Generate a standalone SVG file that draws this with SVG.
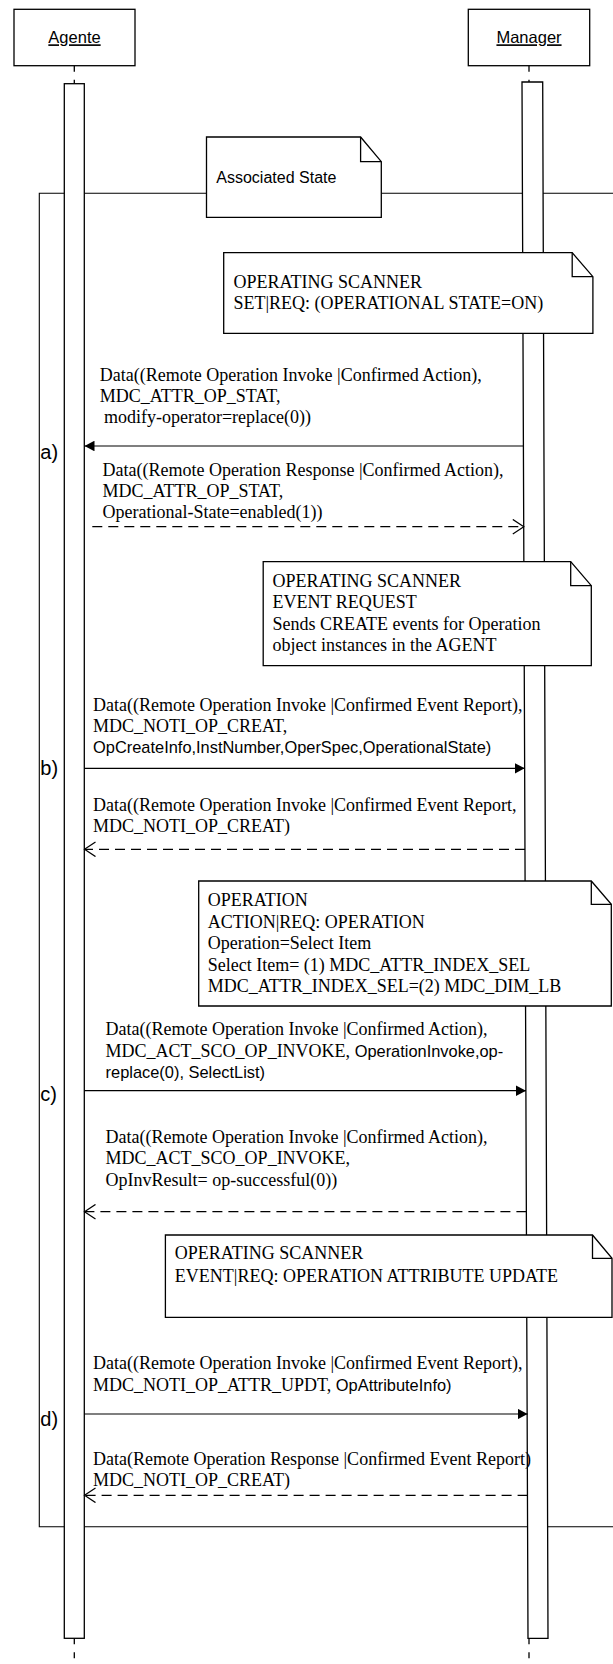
<svg xmlns="http://www.w3.org/2000/svg" width="613" height="1664" viewBox="0 0 613 1664">
<style>
.box{fill:#fff;stroke:#000;stroke-width:1.3}
.fold{fill:none;stroke:#000;stroke-width:1.3}
.frame{fill:none;stroke:#000;stroke-width:1.1}
.ser{font-family:"Liberation Serif","Times New Roman",serif;font-size:18px;fill:#000}
.san{font-family:"Liberation Sans",Arial,sans-serif;font-size:16.4px}
.hd{font-family:"Liberation Sans",Arial,sans-serif;font-size:16.5px;fill:#000}
.lbl{font-family:"Liberation Sans",Arial,sans-serif;font-size:20px;fill:#000}
.msg{stroke:#000;stroke-width:1.2;fill:none}
.dash{stroke-dasharray:10 6}
.life{stroke:#000;stroke-width:1.3;stroke-dasharray:6 8;fill:none}
</style>
<defs>
<marker id="filled" viewBox="0 0 10 10.6" refX="10" refY="5.3" markerWidth="10" markerHeight="10.6" markerUnits="userSpaceOnUse" orient="auto">
<path d="M0,0 L10,5.3 L0,10.6 z" fill="#000" stroke="none"/>
</marker>
<marker id="open" viewBox="0 0 13 16" refX="11.5" refY="8" markerWidth="13" markerHeight="16" markerUnits="userSpaceOnUse" orient="auto">
<path d="M0.5,0.7 L11.5,8 L0.5,15.3" fill="none" stroke="#000" stroke-width="1.2" stroke-dasharray="none"/>
</marker>
</defs>
<rect width="613" height="1664" fill="#fff"/>

<g id="frame">
<path class="frame" d="M620,193.3 H39.3 V1526.7 H620"/>
</g>

<g id="agente">
<rect class="box" x="14" y="9.3" width="121" height="56.4"/>
<text class="hd" x="74.5" y="43.3" text-anchor="middle" text-decoration="underline">Agente</text>
<line class="life" x1="74.3" y1="65.7" x2="74.3" y2="83.7"/>
<line class="life" x1="74.3" y1="1638.3" x2="74.3" y2="1664"/>
<rect class="box" x="64.3" y="83.7" width="20" height="1554.6"/>
</g>

<g id="manager">
<rect class="box" x="468.3" y="9.3" width="121.4" height="56.4"/>
<text class="hd" x="529" y="43.3" text-anchor="middle" text-decoration="underline">Manager</text>
<line class="life" x1="529" y1="65.7" x2="529" y2="82"/>
<line class="life" x1="529" y1="1638.3" x2="529" y2="1664"/>
<polygon class="box" points="522,82 542.7,82 548,1638.3 528,1638.3"/>
</g>

<g id="note-associated">
<polygon class="box" points="206.5,137 360.6,137 381.3,161.7 381.3,217.3 206.5,217.3"/>
<polyline class="fold" points="360.6,137 360.6,161.7 381.3,161.7"/>
<text class="hd" x="216.3" y="183.3" style="font-size:16px">Associated State</text>
</g>

<g id="note-set">
<polygon class="box" points="223.7,252.7 572.2,252.7 592.9,276.7 592.9,333.3 223.7,333.3"/>
<polyline class="fold" points="572.2,252.7 572.2,276.7 592.9,276.7"/>
<text class="ser" x="233.5" y="288.3">OPERATING SCANNER</text>
<text class="ser" x="233.5" y="309.3">SET|REQ: (OPERATIONAL STATE=ON)</text>
</g>

<g id="note-event">
<polygon class="box" points="263.2,561.7 570.7,561.7 591.3,585.7 591.3,665.7 263.2,665.7"/>
<polyline class="fold" points="570.7,561.7 570.7,585.7 591.3,585.7"/>
<text class="ser" x="272.6" y="586.7">OPERATING SCANNER</text>
<text class="ser" x="272.6" y="608.3">EVENT REQUEST</text>
<text class="ser" x="272.6" y="630">Sends CREATE events for Operation</text>
<text class="ser" x="272.6" y="651">object instances in the AGENT</text>
</g>

<g id="note-operation">
<polygon class="box" points="198.7,881 591.3,881 611.3,904.3 611.3,1006 198.7,1006"/>
<polyline class="fold" points="591.3,881 591.3,904.3 611.3,904.3"/>
<text class="ser" x="207.7" y="905.7">OPERATION</text>
<text class="ser" x="207.7" y="927.7">ACTION|REQ: OPERATION</text>
<text class="ser" x="207.7" y="949">Operation=Select Item</text>
<text class="ser" x="207.7" y="970.7">Select Item= (1) MDC_ATTR_INDEX_SEL</text>
<text class="ser" x="207.7" y="992.3">MDC_ATTR_INDEX_SEL=(2) MDC_DIM_LB</text>
</g>

<g id="note-update">
<polygon class="box" points="165.4,1235 592.5,1235 612,1258.3 612,1317.3 165.4,1317.3"/>
<polyline class="fold" points="592.5,1235 592.5,1258.3 612,1258.3"/>
<text class="ser" x="174.8" y="1259.3">OPERATING SCANNER</text>
<text class="ser" x="174.8" y="1281.7">EVENT|REQ: OPERATION ATTRIBUTE UPDATE</text>
</g>

<g id="connectors">
<line class="msg" x1="523.4" y1="446" x2="84.5" y2="446" marker-end="url(#filled)"/>
<line class="msg dash" x1="92.3" y1="526.7" x2="523.8" y2="526.7" marker-end="url(#open)"/>
<line class="msg" x1="84.3" y1="768.3" x2="524.7" y2="768.3" marker-end="url(#filled)"/>
<line class="msg dash" x1="525" y1="849.3" x2="84.5" y2="849.3" marker-end="url(#open)"/>
<line class="msg" x1="84.3" y1="1090.7" x2="526" y2="1090.7" marker-end="url(#filled)"/>
<line class="msg dash" x1="526.4" y1="1211.7" x2="84.5" y2="1211.7" marker-end="url(#open)"/>
<line class="msg" x1="84.3" y1="1414" x2="527.6" y2="1414" marker-end="url(#filled)"/>
<line class="msg dash" x1="527.6" y1="1495.3" x2="84.5" y2="1495.3" marker-end="url(#open)"/>
</g>

<g id="labels">
<text class="ser" x="99.7" y="381">Data((Remote Operation Invoke |Confirmed Action),</text>
<text class="ser" x="99.7" y="401.7">MDC_ATTR_OP_STAT,</text>
<text class="ser" x="104" y="423.3">modify-operator=replace(0))</text>

<text class="ser" x="102.5" y="476">Data((Remote Operation Response |Confirmed Action),</text>
<text class="ser" x="102.5" y="496.7">MDC_ATTR_OP_STAT,</text>
<text class="ser" x="102.5" y="518.3">Operational-State=enabled(1))</text>

<text class="ser" x="93.1" y="710.7">Data((Remote Operation Invoke |Confirmed Event Report),</text>
<text class="ser" x="93.1" y="731.7">MDC_NOTI_OP_CREAT,</text>
<text class="ser san" x="93.1" y="753.3">OpCreateInfo,InstNumber,OperSpec,OperationalState)</text>

<text class="ser" x="93.1" y="811">Data((Remote Operation Invoke |Confirmed Event Report,</text>
<text class="ser" x="93.1" y="831.7">MDC_NOTI_OP_CREAT)</text>

<text class="ser" x="105.6" y="1035">Data((Remote Operation Invoke |Confirmed Action),</text>
<text class="ser" x="105.6" y="1056.7">MDC_ACT_SCO_OP_INVOKE,<tspan class="san"> OperationInvoke,op-</tspan></text>
<text class="ser san" x="105.6" y="1078.3">replace(0), SelectList)</text>

<text class="ser" x="105.6" y="1143.3">Data((Remote Operation Invoke |Confirmed Action),</text>
<text class="ser" x="105.6" y="1164">MDC_ACT_SCO_OP_INVOKE,</text>
<text class="ser" x="105.6" y="1185.7">OpInvResult= op-successful(0))</text>

<text class="ser" x="93.1" y="1369.3">Data((Remote Operation Invoke |Confirmed Event Report),</text>
<text class="ser" x="93.1" y="1390.7">MDC_NOTI_OP_ATTR_UPDT,<tspan class="san"> OpAttributeInfo)</tspan></text>

<text class="ser" x="93.1" y="1465">Data(Remote Operation Response |Confirmed Event Report)</text>
<text class="ser" x="93.1" y="1486">MDC_NOTI_OP_CREAT)</text>

<text class="lbl" x="40.3" y="459">a)</text>
<text class="lbl" x="40.3" y="775">b)</text>
<text class="lbl" x="40.3" y="1101">c)</text>
<text class="lbl" x="40.3" y="1426">d)</text>
</g>
</svg>
